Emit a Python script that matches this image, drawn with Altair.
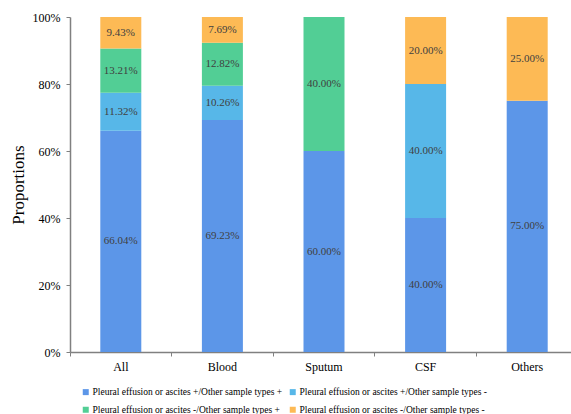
import altair as alt
import pandas as pd

# Sample groups and the share of each positivity pattern (percent)
groups = ["All", "Blood", "Sputum", "CSF", "Others"]
series = [
    "Pleural effusion or ascites +/Other sample types +",
    "Pleural effusion or ascites +/Other sample types -",
    "Pleural effusion or ascites -/Other sample types +",
    "Pleural effusion or ascites -/Other sample types -",
]
pos_pos = [66.04, 69.23, 60.00, 40.00, 75.00]
pos_neg = [11.32, 10.26, 0.00, 40.00, 0.00]
neg_pos = [13.21, 12.82, 40.00, 0.00, 0.00]
neg_neg = [9.43, 7.69, 0.00, 20.00, 25.00]
colors = ["#5C96E8", "#57B7E8", "#52CE95", "#FDBA55"]

values = [pos_pos, pos_neg, neg_pos, neg_neg]
rows = []
for gi, g in enumerate(groups):
    base = 0.0
    for si, s in enumerate(series):
        v = values[si][gi]
        if v > 0:
            rows.append({
                "group": g, "series": s, "order": si,
                "y0": base / 100, "y1": (base + v) / 100,
                "mid": (base + v / 2) / 100, "label": f"{v:.2f}%",
            })
        base += v
df = pd.DataFrame(rows)

FONT = "Times New Roman, Liberation Serif, serif"

x = alt.X(
    "group:N", sort=groups, title=None,
    scale=alt.Scale(paddingInner=0, paddingOuter=0, range=[0, 508]),
    axis=alt.Axis(
        labelAngle=0, labelFontSize=12, labelColor="#000", labelFont=FONT,
        bandPosition=0, tickSize=4, tickColor="#808080", domainColor="#808080",
        domainWidth=1.5, labelPadding=5,
    ),
)

bars = alt.Chart(df).mark_bar(size=41).encode(
    x=x,
    y=alt.Y(
        "y0:Q", title="Proportions",
        scale=alt.Scale(domain=[0, 1], nice=False),
        axis=alt.Axis(
            values=[0, 0.2, 0.4, 0.6, 0.8, 1.0], format=".0%", grid=False,
            labelFontSize=12, labelColor="#000", labelFont=FONT,
            tickSize=4, tickColor="#808080", domainColor="#808080",
            domainWidth=1.5, labelPadding=6,
            titleFont=FONT, titleFontSize=17, titleFontWeight="normal",
            titleColor="#000", titlePadding=5,
        ),
    ),
    y2="y1:Q",
    color=alt.Color(
        "series:N", sort=series,
        scale=alt.Scale(domain=series, range=colors),
        legend=alt.Legend(
            title=None, orient="none", legendX=11, legendY=370,
            columns=2, direction="horizontal",
            symbolType="square", symbolSize=36, symbolStrokeWidth=0,
            labelFont=FONT, labelFontSize=9.5, labelColor="#000",
            labelLimit=400, labelOffset=2, columnPadding=5, rowPadding=7,
            padding=0,
        ),
    ),
    order="order:Q",
)

labels = alt.Chart(df).mark_text(
    font=FONT, fontSize=11, color="#404040", baseline="middle"
).encode(
    x=alt.X("group:N", sort=groups),
    y="mid:Q",
    text="label:N",
)

chart = (
    alt.layer(bars, labels)
    .properties(
        width=501, height=335,
        autosize=alt.AutoSizeParams(type="none"),
        padding={"left": 70, "top": 17, "right": 0, "bottom": 62},
    )
    .configure_view(stroke=None)
)

chart.save("out.html", embed_options={"renderer": "svg", "actions": False})
